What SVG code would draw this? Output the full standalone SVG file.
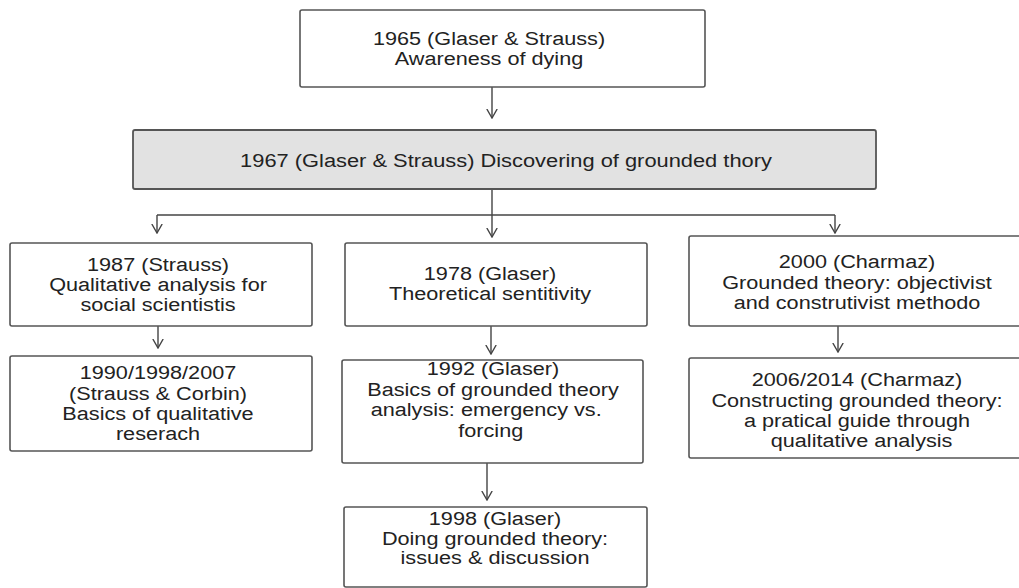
<svg xmlns="http://www.w3.org/2000/svg" width="1019" height="588" viewBox="0 0 1019 588">
<style>
.box{fill:#fff;stroke:#555;stroke-width:1.6}
.gray{fill:#e2e2e2;stroke:#555;stroke-width:1.8}
.t{font-family:"Liberation Sans",Arial,Helvetica,sans-serif;font-size:19px;fill:#222;text-anchor:middle}
.c{fill:none;stroke:#444;stroke-width:1.4}
</style>
<defs>
<marker id="ah" viewBox="0 0 10 12" refX="9.5" refY="6" markerWidth="10" markerHeight="12" markerUnits="userSpaceOnUse" orient="auto">
<path d="M0.5,0.8 L9.5,6 L0.5,11.2" fill="none" stroke="#444" stroke-width="1.4"/>
</marker>
</defs>
<rect width="1019" height="588" fill="#fff"/>
<g id="connectors" class="c">
<line x1="492" y1="87" x2="492" y2="118" marker-end="url(#ah)"/>
<line x1="492" y1="189" x2="492" y2="237" marker-end="url(#ah)"/>
<line x1="157" y1="215" x2="835" y2="215"/>
<line x1="157" y1="215" x2="157" y2="233" marker-end="url(#ah)"/>
<line x1="835" y1="215" x2="835" y2="233" marker-end="url(#ah)"/>
<line x1="158" y1="326" x2="158" y2="348" marker-end="url(#ah)"/>
<line x1="491" y1="326" x2="491" y2="354" marker-end="url(#ah)"/>
<line x1="838" y1="326" x2="838" y2="352" marker-end="url(#ah)"/>
<line x1="487" y1="463" x2="487" y2="500" marker-end="url(#ah)"/>
</g>
<g id="n1965">
<rect class="box" x="300" y="10" width="405" height="77" rx="2"/>
<g transform="translate(489,0) scale(1.14,1)" class="t">
<text x="0" y="45">1965 (Glaser &amp; Strauss)</text>
<text x="0" y="65.5">Awareness of dying</text>
</g>
</g>
<g id="n1967">
<rect class="gray" x="133" y="130" width="743" height="59" rx="2"/>
<g transform="translate(506,0) scale(1.15,1)" class="t">
<text x="0" y="167">1967 (Glaser &amp; Strauss) Discovering of grounded thory</text>
</g>
</g>
<g id="n1987">
<rect class="box" x="10" y="243" width="302" height="83" rx="2"/>
<g transform="translate(158,0) scale(1.14,1)" class="t">
<text x="0" y="271">1987 (Strauss)</text>
<text x="0" y="291">Qualitative analysis for</text>
<text x="0" y="311">social scientistis</text>
</g>
</g>
<g id="n1978">
<rect class="box" x="345" y="243" width="302" height="83" rx="2"/>
<g transform="translate(490,0) scale(1.14,1)" class="t">
<text x="0" y="280">1978 (Glaser)</text>
<text x="0" y="300.5">Theoretical sentitivity</text>
</g>
</g>
<g id="n2000">
<rect class="box" x="689" y="236" width="340" height="90" rx="2"/>
<g transform="translate(857,0) scale(1.14,1)" class="t">
<text x="0" y="268">2000 (Charmaz)</text>
<text x="0" y="289">Grounded theory: objectivist</text>
<text x="0" y="309">and construtivist methodo</text>
</g>
</g>
<g id="n1990">
<rect class="box" x="10" y="356" width="302" height="95" rx="2"/>
<g transform="translate(158,0) scale(1.14,1)" class="t">
<text x="0" y="379.5">1990/1998/2007</text>
<text x="0" y="400">(Strauss &amp; Corbin)</text>
<text x="0" y="420.5">Basics of qualitative</text>
<text x="0" y="440.5">reserach</text>
</g>
</g>
<g id="n1992">
<rect class="box" x="342" y="360" width="301" height="103" rx="2"/>
<g transform="translate(493,0) scale(1.14,1)" class="t">
<text x="0" y="375.5">1992 (Glaser)</text>
<text x="0" y="396">Basics of grounded theory</text>
<text x="-6" y="416.5">analysis: emergency vs.</text>
<text x="-2" y="437">forcing</text>
</g>
</g>
<g id="n2006">
<rect class="box" x="689" y="358" width="340" height="100" rx="2"/>
<g transform="translate(857,0) scale(1.14,1)" class="t">
<text x="0" y="386.5">2006/2014 (Charmaz)</text>
<text x="0" y="407">Constructing grounded theory:</text>
<text x="0" y="427">a pratical guide through</text>
<text x="4" y="447">qualitative analysis</text>
</g>
</g>
<g id="n1998">
<rect class="box" x="344" y="507" width="303" height="80" rx="2"/>
<g transform="translate(495,0) scale(1.14,1)" class="t">
<text x="0" y="525.5">1998 (Glaser)</text>
<text x="0" y="545">Doing grounded theory:</text>
<text x="0" y="564.5">issues &amp; discussion</text>
</g>
</g>
</svg>
